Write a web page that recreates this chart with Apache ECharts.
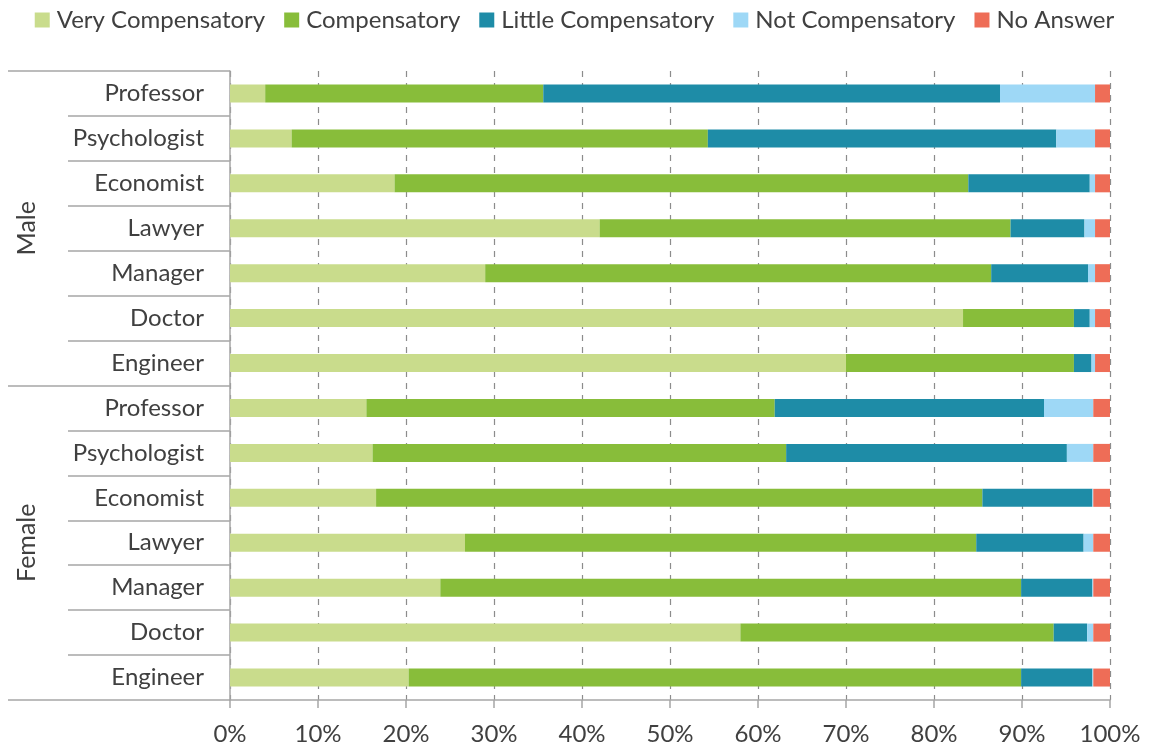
<!DOCTYPE html>
<html>
<head>
<meta charset="utf-8">
<script src="https://cdn.jsdelivr.net/npm/echarts@6/dist/echarts.min.js"></script>
<style>
  html, body { margin: 0; padding: 0; background: #ffffff; }
  #chart { width: 1149px; height: 749px; }
</style>
</head>
<body>
<div id="chart"></div>
<script>
// Occupations, top to bottom, first the male block then the female block
const occupations = [
  'Professor', 'Psychologist', 'Economist', 'Lawyer', 'Manager', 'Doctor', 'Engineer',
  'Professor', 'Psychologist', 'Economist', 'Lawyer', 'Manager', 'Doctor', 'Engineer'
];
const groups = ['Male', 'Female'];
const seriesNames = ['Very Compensatory', 'Compensatory', 'Little Compensatory', 'Not Compensatory', 'No Answer'];

// Share of answers (%) per occupation, same order as above
const veryCompensatory   = [4.0, 7.0, 18.7, 42.0, 29.0, 83.3, 70.0, 15.5, 16.2, 16.6, 26.7, 23.9, 58.0, 20.3];
const compensatory       = [31.6, 47.3, 65.2, 46.7, 57.5, 12.6, 25.9, 46.4, 47.0, 68.9, 58.1, 66.0, 35.6, 69.6];
const littleCompensatory = [51.9, 39.6, 13.8, 8.4, 11.0, 1.8, 2.0, 30.6, 31.9, 12.5, 12.2, 8.1, 3.8, 8.1];
const notCompensatory    = [10.8, 4.4, 0.6, 1.2, 0.8, 0.6, 0.4, 5.6, 3.0, 0.1, 1.1, 0.1, 0.7, 0.1];
const noAnswer           = [1.7, 1.7, 1.7, 1.7, 1.7, 1.7, 1.7, 1.9, 1.9, 1.9, 1.9, 1.9, 1.9, 1.9];

const xTicks = [0, 10, 20, 30, 40, 50, 60, 70, 80, 90, 100];

const colors = ['#c9dc8c', '#88bd3a', '#1e8ca7', '#9ed8f6', '#ee6d57'];
const values = [veryCompensatory, compensatory, littleCompensatory, notCompensatory, noAnswer];

const FONT = 'Lato, "Open Sans", sans-serif';
const TEXT = '#404040';
const LINE = '#a6a6a6';

const chart = echarts.init(document.getElementById('chart'), null, { renderer: 'canvas' });

chart.setOption({
  animation: false,
  color: colors,
  textStyle: { fontFamily: FONT },
  legend: {
    top: 3,
    left: 'center',
    itemWidth: 15,
    itemHeight: 15,
    itemGap: 19,
    icon: 'rect',
    textStyle: { fontSize: 24, color: TEXT, fontFamily: FONT, padding: [0, 0, 0, 2] },
    data: seriesNames
  },
  grid: { left: 230, right: 39, top: 71, bottom: 49, containLabel: false },
  xAxis: {
    type: 'value',
    min: xTicks[0],
    max: xTicks[xTicks.length - 1],
    interval: xTicks[1] - xTicks[0],
    axisLine: { show: true, lineStyle: { color: LINE, width: 1.5 } },
    axisTick: { show: true, length: 8, lineStyle: { color: LINE, width: 1.5 } },
    axisLabel: { formatter: '{value}%', fontSize: 24, color: TEXT, margin: 22, fontFamily: FONT },
    splitLine: { show: true, lineStyle: { color: '#8c8c8c', type: [6, 6], width: 1.2 } }
  },
  yAxis: [
    {
      type: 'category',
      data: occupations,
      inverse: true,
      position: 'left',
      axisLine: { show: true, lineStyle: { color: LINE, width: 1.5 } },
      axisTick: { show: true, interval: 0, length: 162, lineStyle: { color: LINE, width: 1.5 } },
      axisLabel: { interval: 0, fontSize: 24, color: TEXT, margin: 26, fontFamily: FONT }
    },
    {
      type: 'category',
      data: groups,
      inverse: true,
      position: 'left',
      offset: 0,
      axisLine: { show: false },
      axisTick: { show: true, interval: 0, length: 222, lineStyle: { color: LINE, width: 1.5 } },
      axisLabel: { interval: 0, rotate: 90, fontSize: 25, color: TEXT, margin: 191, fontFamily: FONT }
    }
  ],
  series: seriesNames.map((name, i) => ({
    name: name,
    type: 'bar',
    stack: 'total',
    yAxisIndex: 0,
    barWidth: 18,
    itemStyle: { color: colors[i] },
    data: values[i]
  }))
});
</script>
</body>
</html>
